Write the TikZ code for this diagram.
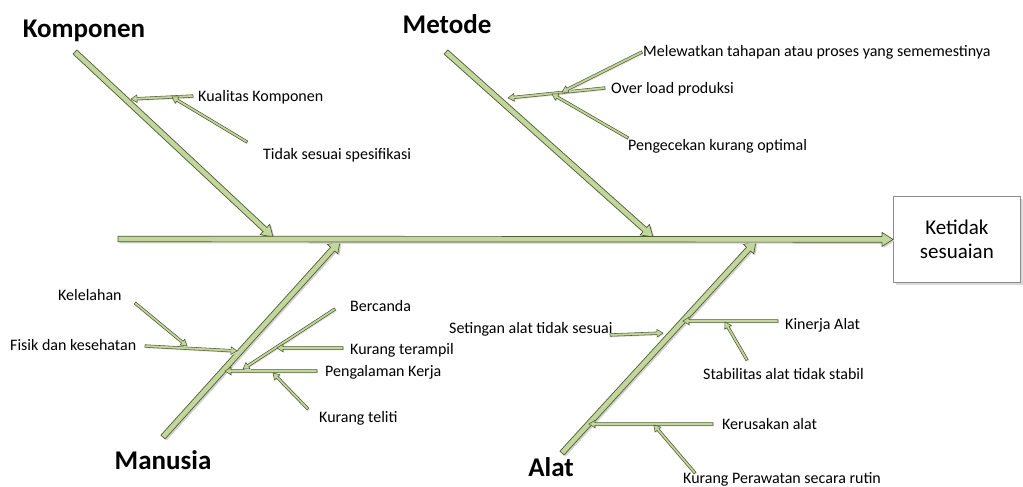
\documentclass[tikz,border=0pt]{standalone}
\usepackage{fontspec}
\setmainfont{Carlito}
\usetikzlibrary{calc}
\definecolor{bonefill}{HTML}{C3D69B}
\definecolor{bonedraw}{HTML}{4F5B35}
\definecolor{boxdraw}{HTML}{8C8C8C}
\newcommand\fatarrow[6]{%
  \coordinate (hb) at ($(#3)!#6!(#2)$);
  \draw[#1] ($(#2)!#4!90:(#3)$) -- ($(hb)!#4!90:(#3)$) -- ($(hb)!#5!90:(#3)$) -- (#3)
    -- ($(hb)!#5!-90:(#3)$) -- ($(hb)!#4!-90:(#3)$) -- ($(#2)!#4!-90:(#3)$) -- cycle;}
\newcommand\bigbone[2]{%
  \fatarrow{draw=none,fill=black!18,transform canvas={xshift=1.6pt,yshift=-1.6pt}}{#1}{#2}{2.8pt}{7pt}{11pt}
  \fatarrow{bonestyle}{#1}{#2}{2.8pt}{7pt}{11pt}}
\newcommand\smallbone[2]{%
  \fatarrow{draw=none,fill=black!12,transform canvas={xshift=1pt,yshift=-1pt}}{#1}{#2}{1.3pt}{3.8pt}{6pt}
  \fatarrow{substyle}{#1}{#2}{1.3pt}{3.8pt}{6pt}}
\begin{document}
\begin{tikzpicture}[x=1pt,y=-1pt,
  bonestyle/.style={fill=bonefill,draw=bonedraw,line width=0.7pt,line join=miter},
  substyle/.style={fill=bonefill,draw=bonedraw,line width=0.55pt,line join=miter},
  lbl/.style={anchor=base west,inner sep=0pt,font=\fontsize{16}{19}\selectfont},
  ttl/.style={inner sep=0pt,font=\fontsize{27}{31}\selectfont\bfseries}]
\useasboundingbox (0,0) rectangle (1023,487);
% effect box
\fill[black!15] (896,199) rectangle (1023,285);
\node[draw=boxdraw,fill=white,line width=0.8pt,minimum width=127pt,minimum height=86pt,anchor=north west,inner sep=0pt,
  align=center,font=\fontsize{21}{24}\selectfont] (eff) at (893,196) {Ketidak\\sesuaian};
% coordinates of main bones
\coordinate (S0) at (118,239);
\coordinate (S1) at (eff.west);
\coordinate (K0) at (75,52);   \coordinate (K1) at (273,237);
\coordinate (M0) at (446,52);  \coordinate (M1) at (653,237);
\coordinate (H0) at (163,437); \coordinate (H1) at (340,241);
\coordinate (A0) at (562,453); \coordinate (A1) at (756,241);
\bigbone{K0}{K1}
\bigbone{M0}{M1}
\bigbone{H0}{H1}
\bigbone{A0}{A1}
\bigbone{S0}{S1}
% titles
\node[ttl] (tK) at (84,31) {Komponen};
\node[ttl] (tM) at (447,24) {Metode};
\node[ttl] (tH) at (163,460) {Manusia};
\node[ttl] (tA) at (551,467) {Alat};
% labels
\node[lbl] (l1) at (198,101) {Kualitas Komponen};
\node[lbl] (l2) at (263,159) {Tidak sesuai spesifikasi};
\node[lbl] (l3) at (643,57) {Melewatkan tahapan atau proses yang sememestinya};
\node[lbl] (l4) at (611,93) {Over load produksi};
\node[lbl] (l5) at (628,150) {Pengecekan kurang optimal};
\node[lbl] (l6) at (58,300) {Kelelahan};
\node[lbl] (l7) at (10,350) {Fisik dan kesehatan};
\node[lbl] (l8) at (350,311) {Bercanda};
\node[lbl] (l9) at (350,354) {Kurang terampil};
\node[lbl] (l10) at (325,376) {Pengalaman Kerja};
\node[lbl] (l11) at (319,422) {Kurang teliti};
\node[lbl] (l12) at (449,333) {Setingan alat tidak sesuai};
\node[lbl] (l13) at (785,329) {Kinerja Alat};
\node[lbl] (l14) at (703,379) {Stabilitas alat tidak stabil};
\node[lbl] (l15) at (722,429) {Kerusakan alat};
\node[lbl] (l16) at (683,483) {Kurang Perawatan secara rutin};
% sub arrow endpoints
\coordinate (a1s) at (193,96);  \coordinate (a1e) at (131,99);
\coordinate (a2s) at (247,142); \coordinate (a2e) at (172,97);
\coordinate (a3s) at (642,52);  \coordinate (a3e) at (562,92);
\coordinate (a4s) at (605,88);  \coordinate (a4e) at (508,98);
\coordinate (a5s) at (628,138); \coordinate (a5e) at (552,94);
\coordinate (a6s) at (135,303); \coordinate (a6e) at (187,346);
\coordinate (a7s) at (145,346); \coordinate (a7e) at (237,351);
\coordinate (a8s) at (335,309); \coordinate (a8e) at (243,369);
\coordinate (a9s) at (343,348); \coordinate (a9e) at (277,348);
\coordinate (a10s) at (317,371); \coordinate (a10e) at (225,371);
\coordinate (a11s) at (308,409); \coordinate (a11e) at (273,373);
\coordinate (a12s) at (610,335); \coordinate (a12e) at (663,333);
\coordinate (a13s) at (778,321); \coordinate (a13e) at (683,321);
\coordinate (a14s) at (747,360); \coordinate (a14e) at (725,322);
\coordinate (a15s) at (713,424); \coordinate (a15e) at (589,424);
\coordinate (a16s) at (695,473); \coordinate (a16e) at (654,425);
\smallbone{a1s}{a1e}
\smallbone{a2s}{a2e}
\smallbone{a4s}{a4e}
\smallbone{a3s}{a3e}
\smallbone{a5s}{a5e}
\smallbone{a7s}{a7e}
\smallbone{a6s}{a6e}
\smallbone{a10s}{a10e}
\smallbone{a8s}{a8e}
\smallbone{a9s}{a9e}
\smallbone{a11s}{a11e}
\smallbone{a12s}{a12e}
\smallbone{a13s}{a13e}
\smallbone{a14s}{a14e}
\smallbone{a15s}{a15e}
\smallbone{a16s}{a16e}
\end{tikzpicture}
\end{document}
